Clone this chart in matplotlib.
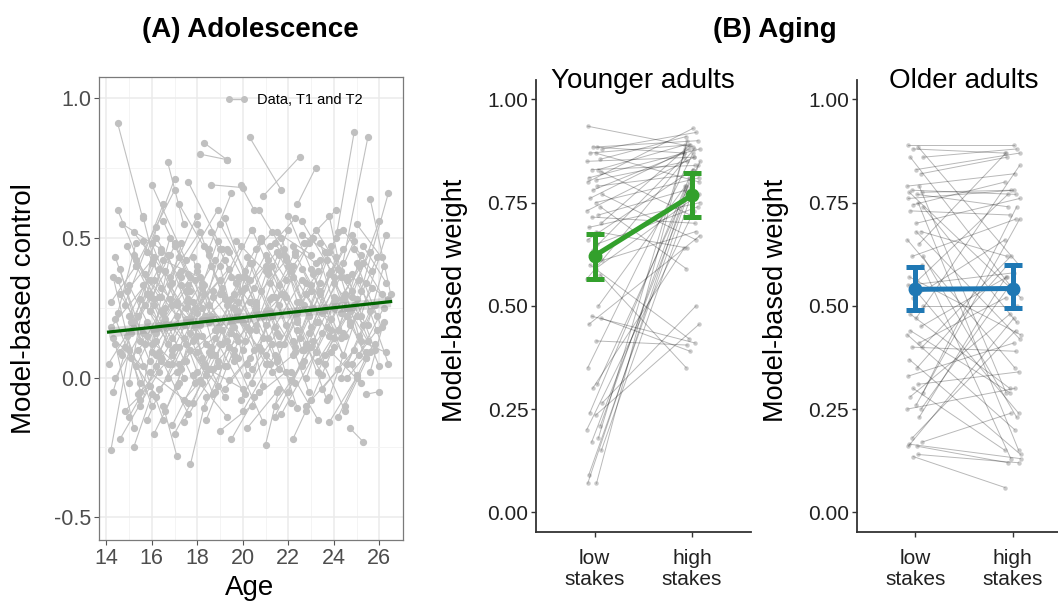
import matplotlib
matplotlib.use("Agg")
import matplotlib.pyplot as plt
from matplotlib.lines import Line2D
import numpy as np

plt.rcParams["font.family"] = ["Liberation Sans", "DejaVu Sans"]
plt.rcParams["axes.unicode_minus"] = False

# (A) Adolescence: model-based control at T1 and T2 for each participant
t1_age = [14.1, 14.2, 14.2, 14.3, 14.3, 14.4, 14.4, 14.5, 14.5, 14.5, 14.6, 14.6, 14.7, 14.7, 14.8, 14.8, 14.9, 14.9, 15.0, 15.0,
          15.1, 15.2, 15.2, 15.3, 15.3, 15.4, 15.5, 15.5, 15.6, 15.6, 15.7, 15.8, 15.8, 15.9, 15.9, 16.0, 16.0, 16.1, 16.1, 16.2,
          16.2, 16.3, 16.4, 16.4, 16.5, 16.5, 16.6, 16.7, 16.7, 16.8, 16.9, 16.9, 17.0, 17.0, 17.1, 17.2, 17.2, 17.3, 17.4, 17.4,
          17.5, 17.6, 17.7, 17.7, 17.8, 17.8, 17.9, 18.0, 18.0, 18.1, 18.2, 18.3, 18.3, 18.4, 18.5, 18.5, 18.6, 18.7, 18.8, 18.9,
          19.0, 19.0, 19.1, 19.2, 19.3, 19.4, 19.5, 19.6, 19.7, 19.8, 19.9, 20.0, 20.1, 20.2, 20.3, 20.3, 20.4, 20.5, 20.6, 20.7,
          20.8, 20.9, 21.0, 21.0, 21.1, 21.2, 21.3, 21.4, 21.5, 21.5, 21.6, 21.7, 21.8, 21.9, 22.0, 22.1, 22.2, 22.2, 22.3, 22.4,
          22.5, 22.6, 22.7, 22.8, 22.9, 23.0, 23.1, 23.2, 23.3, 23.4, 23.5, 23.6, 23.7, 23.8, 23.9, 24.0, 24.1, 24.2, 24.3, 24.4,
          24.5, 24.6, 24.7, 24.8, 24.9, 25.0, 25.1, 25.2, 25.3, 25.4, 25.5, 25.6,
          15.1, 15.7, 16.3, 16.6, 17.1, 17.5, 17.9, 18.2, 18.6, 18.9, 19.3, 19.6, 20.0, 20.4, 20.8, 21.2, 21.6, 22.0, 22.4, 22.8,
          23.2, 23.6, 24.0, 24.4, 24.8, 14.3, 14.9, 20.6, 21.4, 22.6,
          14.2, 14.4, 14.6, 14.8, 15.0, 15.2, 15.4, 15.6, 15.8, 16.0, 16.2, 16.4, 16.6, 16.8, 17.0,
          17.2, 17.4, 17.6, 17.8, 18.0, 18.2, 18.4, 18.6, 18.8, 19.0, 19.2, 19.4, 19.6, 19.8, 20.0,
          20.2, 20.4, 20.6, 20.8, 21.0, 21.2, 21.4, 21.6, 21.8, 22.0, 22.2, 22.4, 22.6, 22.8, 23.0,
          23.2, 23.4, 23.6, 23.8, 24.0, 24.2, 24.4, 24.6, 24.8, 25.0, 25.2, 25.4, 25.6, 14.5, 15.1,
          15.5, 15.9, 16.3, 16.7, 17.1, 17.5, 17.9, 18.3, 18.7, 19.1, 19.5, 19.9, 20.3, 20.7, 21.1,
          21.5, 21.9, 22.3, 22.7, 23.1, 23.5, 23.9, 24.3, 24.7, 25.1, 14.6, 15.3, 16.1, 16.9, 17.7,
          18.5, 19.3, 20.1, 20.9, 21.7, 22.5, 23.3, 24.1, 24.9, 16.0, 17.3, 18.1, 19.7, 21.3, 22.9,
          14.4, 15.0, 15.6, 16.2, 16.8, 17.4, 18.0, 18.6, 19.2, 19.8, 20.4, 21.0, 21.6, 22.2, 22.8,
          23.4, 24.0, 24.6, 25.2, 17.0, 18.4, 19.0, 20.2, 21.4, 22.6, 23.8, 16.5, 19.5, 22.1, 24.5]
t1_mbc = [0.05, -0.26, 0.18, 0.36, -0.05, 0.43, 0.12, 0.91, 0.60, 0.23, -0.22, 0.30, 0.08, 0.55, -0.12, 0.26, 0.15, 0.47, -0.02, 0.33,
          0.20, -0.25, 0.52, 0.04, 0.40, 0.10, 0.28, -0.08, 0.58, 0.16, 0.37, -0.15, 0.45, 0.02, 0.24, 0.69, 0.09, -0.20, 0.35, 0.13,
          0.50, -0.04, 0.29, 0.07, 0.42, -0.10, 0.21, 0.77, 0.00, 0.33, 0.14, -0.17, 0.48, 0.11, 0.27, 0.62, 0.05, 0.38, -0.08, 0.19,
          0.31, 0.70, -0.31, 0.16, 0.43, 0.01, 0.25, 0.55, 0.09, 0.80, 0.34, 0.84, -0.11, 0.22, 0.46, 0.03, 0.69, 0.29, -0.05, 0.18,
          0.40, -0.19, 0.12, 0.57, 0.26, -0.01, 0.36, 0.08, 0.49, 0.21, 0.69, -0.12, 0.32, 0.05, 0.86, 0.17, 0.41, -0.07, 0.25, 0.60,
          0.10, 0.65, -0.24, 0.38, 0.14, 0.47, 0.02, 0.29, 0.52, 0.07, 0.33, -0.13, 0.44, 0.19, 0.58, -0.01, -0.22, 0.36, 0.11, 0.62,
          0.27, 0.04, 0.48, -0.10, 0.22, 0.39, 0.13, 0.53, 0.06, 0.30, -0.04, 0.45, 0.18, 0.58, 0.09, 0.34, 0.50, -0.14, 0.23, 0.41,
          0.15, 0.00, -0.18, 0.37, 0.26, 0.55, 0.08, 0.31, 0.47, -0.06, 0.19, 0.64,
          0.07, 0.26, 0.18, 0.38, 0.02, 0.12, 0.35, 0.15, 0.40, 0.06, 0.13, 0.30, 0.20, 0.03, 0.31, 0.24, 0.12, 0.40, 0.17, 0.30,
          0.20, 0.08, 0.14, 0.28, 0.05, 0.14, 0.31, 0.46, 0.48, 0.51,
          0.27, 0.00, 0.39, 0.11, 0.22, 0.44, -0.06, 0.33, 0.15, 0.48, 0.04, 0.24, -0.12, 0.36, 0.19,
          0.43, 0.06, 0.28, -0.09, 0.38, 0.21, 0.01, 0.52, 0.14, 0.30, -0.04, 0.45, 0.18, 0.36, 0.10,
          0.43, -0.02, 0.19, 0.50, 0.08, 0.34, -0.10, 0.26, 0.12, -0.05, 0.47, 0.21, 0.39, 0.00, 0.31,
          0.09, 0.42, 0.25, -0.07, 0.36, 0.17, 0.53, 0.05, 0.29, 0.41, 0.13, 0.34, 0.02, 0.35, 0.16,
          -0.10, 0.30, 0.09, 0.44, -0.03, 0.25, 0.14, 0.47, 0.03, 0.32, 0.16, -0.08, 0.27, 0.11, 0.42,
          0.06, 0.29, 0.44, 0.10, 0.37, 0.23, 0.47, 0.00, 0.20, 0.35, 0.09, 0.42, 0.26, 0.05, 0.21,
          0.26, 0.04, 0.38, 0.22, 0.50, 0.14, 0.02, 0.28, 0.46, 0.12, 0.33, -0.01, 0.24, 0.40, 0.16,
          0.21, -0.14, 0.49, 0.16, 0.28, -0.16, 0.23, 0.11, 0.42, 0.07, 0.53, 0.24, 0.44, 0.08, -0.12,
          0.48, 0.25, 0.36, 0.22, -0.20, -0.15, 0.55, -0.18, -0.14, 0.56, -0.16, 0.56, -0.22, 0.02, -0.10]
t2_age = [15.4, 15.0, 15.9, 15.5, 16.0, 15.7, 15.2, 15.6, 16.1, 15.3, 16.3, 16.2, 15.8, 16.4, 15.9, 16.5, 16.0, 16.6, 16.2, 16.7,
          16.3, 16.0, 16.9, 16.6, 17.0, 16.5, 17.2, 16.8, 16.4, 17.3, 17.1, 17.4, 17.0, 17.6, 16.8, 17.5, 17.7, 17.2, 17.9, 17.3,
          17.8, 17.5, 18.0, 17.6, 18.1, 17.1, 18.3, 17.4, 18.2, 18.4, 18.0, 18.5, 18.6, 18.3, 18.7, 18.5, 18.8, 18.9, 18.6, 19.0,
          18.2, 19.1, 18.4, 19.2, 19.0, 19.3, 19.4, 19.1, 19.5, 19.3, 19.6, 19.3, 19.7, 19.9, 19.5, 20.0, 20.0, 20.1, 19.8, 20.3,
          20.2, 20.4, 20.5, 20.6, 20.8, 20.7, 21.0, 20.9, 21.1, 21.2, 20.5, 21.4, 21.5, 21.3, 21.7, 21.8, 21.6, 21.9, 22.0, 22.2,
          22.1, 22.5, 21.6, 22.4, 22.6, 22.3, 22.8, 22.9, 23.0, 22.7, 23.1, 23.2, 22.4, 23.3, 23.4, 23.5, 23.0, 23.6, 23.7, 23.2,
          23.9, 24.0, 24.1, 24.2, 24.4, 24.3, 24.5, 24.6, 24.7, 24.8, 24.9, 25.0, 25.1, 24.3, 25.2, 25.3, 24.9, 25.4, 25.6, 25.5,
          25.7, 25.8, 25.3, 25.9, 26.0, 26.1, 26.2, 26.4, 26.3, 26.0, 26.2, 26.5,
          16.1, 16.9, 17.7, 17.8, 18.1, 18.9, 18.8, 19.2, 19.6, 20.2, 20.1, 20.9, 21.0, 21.5, 21.9, 22.3, 22.8, 23.1, 23.5, 23.8,
          24.3, 24.6, 25.0, 25.5, 25.9, 15.6, 16.1, 21.3, 21.9, 23.8,
          15.3, 15.8, 15.5, 16.2, 16.4, 16.3, 16.9, 16.7, 17.2, 17.1, 17.5, 17.9, 17.7, 18.1, 18.4,
          18.5, 18.7, 18.3, 19.1, 19.4, 19.0, 19.8, 19.7, 20.1, 20.4, 20.3, 20.6, 21.0, 20.9, 21.2,
          21.4, 21.3, 21.8, 21.9, 22.3, 22.2, 22.7, 22.9, 23.0, 23.3, 23.2, 23.7, 23.9, 24.0, 24.2,
          24.5, 24.4, 24.9, 25.0, 25.4, 25.2, 25.7, 25.8, 26.0, 26.1, 26.3, 26.4, 26.2, 15.9, 16.6,
          16.8, 17.0, 17.6, 18.0, 18.2, 18.8, 19.2, 19.5, 20.0, 20.5, 20.8, 21.3, 21.6, 22.1, 22.4,
          22.8, 23.0, 23.6, 24.1, 24.4, 24.8, 25.1, 25.6, 25.9, 26.4, 15.9, 16.5, 17.4, 18.3, 18.9,
          19.8, 20.6, 21.5, 22.3, 23.0, 23.8, 24.6, 25.4, 26.1, 17.3, 18.6, 19.5, 21.0, 22.6, 24.2,
          15.5, 16.4, 16.9, 17.6, 18.0, 18.9, 19.3, 19.9, 20.6, 21.1, 21.7, 22.4, 22.9, 23.4, 24.0,
          24.7, 25.3, 25.8, 26.3, 18.2, 19.6, 20.3, 21.5, 22.6, 23.9, 25.0, 17.6, 20.7, 23.3, 25.6]
t2_mbc = [0.22, 0.10, 0.35, -0.05, 0.41, 0.12, -0.18, 0.57, 0.28, 0.48, 0.02, 0.08, 0.30, 0.46, -0.03, 0.62, -0.10, 0.19, 0.54, 0.05,
          0.39, -0.06, 0.34, 0.25, 0.67, -0.15, 0.11, 0.44, 0.32, 0.03, 0.22, 0.14, 0.71, -0.09, 0.50, 0.42, 0.31, -0.02, 0.18, 0.48,
          0.27, 0.06, 0.58, -0.13, 0.36, -0.28, 0.04, 0.55, 0.25, 0.12, 0.40, 0.09, 0.22, 0.33, -0.06, 0.44, 0.17, 0.60, 0.03, 0.35,
          0.07, 0.46, -0.07, 0.28, 0.12, -0.14, 0.39, 0.30, 0.20, 0.78, 0.06, 0.78, 0.15, 0.47, 0.66, -0.04, 0.68, 0.13, 0.27, 0.41,
          0.01, -0.10, 0.32, 0.24, 0.50, 0.11, 0.19, -0.16, 0.37, 0.05, 0.60, 0.08, 0.45, 0.22, 0.67, 0.30, 0.15, 0.02, 0.53, 0.40,
          -0.09, 0.79, -0.04, 0.20, 0.35, 0.57, 0.12, -0.05, 0.44, 0.26, 0.50, 0.09, 0.27, 0.38, 0.31, 0.16, -0.08, 0.05, 0.42, 0.75,
          0.21, 0.29, 0.60, 0.03, 0.46, 0.14, -0.12, 0.35, 0.24, 0.51, 0.10, 0.28, 0.40, 0.38, -0.02, 0.19, 0.88, 0.07, 0.45, 0.86,
          0.32, 0.12, -0.23, 0.22, 0.04, 0.43, 0.25, 0.66, 0.34, -0.05, 0.40, 0.30,
          0.17, 0.10, 0.36, 0.13, 0.19, -0.03, 0.08, 0.04, 0.25, 0.18, 0.36, 0.14, 0.05, 0.16, 0.42, 0.09, 0.30, 0.25, 0.01, 0.15,
          0.36, 0.22, 0.01, 0.13, 0.17, 0.04, 0.43, 0.52, 0.43, 0.45,
          0.40, 0.20, 0.13, -0.07, 0.45, 0.29, 0.08, 0.12, 0.37, 0.26, 0.21, -0.02, 0.10, 0.52, 0.01,
          0.20, 0.31, 0.05, 0.17, 0.11, 0.46, 0.24, 0.34, -0.06, 0.53, 0.07, 0.26, 0.40, -0.03, 0.28,
          0.18, 0.29, 0.46, 0.35, -0.02, 0.13, 0.06, 0.48, 0.33, 0.20, 0.41, -0.08, 0.17, 0.27, 0.52,
          0.30, 0.16, 0.49, 0.22, 0.07, 0.44, 0.38, 0.26, 0.56, 0.18, 0.09, 0.28, 0.20, 0.06, 0.38,
          0.19, 0.47, 0.27, 0.15, 0.32, 0.42, -0.07, 0.21, 0.36, 0.10, 0.49, 0.12, 0.03, 0.38, 0.23,
          0.34, 0.11, 0.25, 0.43, 0.08, 0.31, 0.15, 0.24, 0.43, 0.05, 0.29, 0.23, 0.00, 0.30, 0.49,
          0.13, 0.27, 0.06, 0.45, 0.18, 0.37, 0.25, 0.09, 0.30, 0.36, 0.08, 0.28, 0.44, 0.10, 0.39,
          -0.02, 0.06, 0.26, 0.33, 0.02, 0.04, 0.46, 0.31, 0.17, 0.39, 0.30, -0.11, 0.22, 0.34, 0.11,
          0.19, 0.41, 0.10, 0.51, -0.02, 0.10, 0.35, -0.05, 0.05, 0.38, 0.00, 0.37, -0.05, -0.15, 0.09]

# linear age effect (end points) and its band half-width
fit_age = [14.1, 26.5]
fit_mbc = [0.163, 0.272]
fit_band = [0.018, 0.018]

# (B) Aging: model-based weight per participant, low vs high stakes
young_low = [0.935, 0.885, 0.885, 0.88, 0.87, 0.87, 0.855, 0.85, 0.83, 0.83, 0.825, 0.81, 0.805, 0.80, 0.79, 0.78, 0.77,
             0.76, 0.75, 0.74, 0.73, 0.72, 0.715, 0.70, 0.69, 0.68, 0.66, 0.65, 0.635, 0.61, 0.60, 0.59, 0.575, 0.565,
             0.50, 0.475, 0.47, 0.455, 0.415, 0.35, 0.31, 0.30, 0.265, 0.24, 0.235, 0.21, 0.20, 0.18, 0.17, 0.15, 0.09, 0.07, 0.07]
young_high = [0.885, 0.90, 0.87, 0.92, 0.89, 0.80, 0.91, 0.86, 0.89, 0.84, 0.72, 0.88, 0.85, 0.93, 0.82, 0.87, 0.66,
              0.88, 0.81, 0.59, 0.86, 0.78, 0.70, 0.89, 0.75, 0.64, 0.83, 0.74, 0.86, 0.68, 0.42, 0.77, 0.35, 0.88,
              0.79, 0.41, 0.39, 0.67, 0.405, 0.87, 0.84, 0.64, 0.50, 0.81, 0.455, 0.79, 0.73, 0.88, 0.82, 0.76, 0.85, 0.90, 0.83]
old_low = [0.89, 0.885, 0.88, 0.86, 0.86, 0.83, 0.82, 0.79, 0.79, 0.78, 0.775, 0.775, 0.77, 0.76, 0.75, 0.745, 0.74, 0.73,
           0.70, 0.68, 0.66, 0.65, 0.62, 0.60, 0.57, 0.56, 0.55, 0.53, 0.52, 0.50, 0.48, 0.47, 0.45, 0.43, 0.41, 0.40, 0.40,
           0.37, 0.35, 0.33, 0.31, 0.30, 0.29, 0.28, 0.26, 0.25, 0.25, 0.23, 0.18, 0.17, 0.165, 0.16, 0.16, 0.14, 0.135,
           0.62, 0.44, 0.68]
old_high = [0.89, 0.60, 0.87, 0.88, 0.55, 0.87, 0.86, 0.82, 0.29, 0.77, 0.78, 0.52, 0.74, 0.78, 0.15, 0.80, 0.46, 0.72,
            0.76, 0.62, 0.35, 0.87, 0.71, 0.13, 0.43, 0.77, 0.58, 0.24, 0.66, 0.50, 0.30, 0.84, 0.57, 0.20, 0.52, 0.39, 0.62,
            0.14, 0.60, 0.41, 0.34, 0.15, 0.74, 0.48, 0.71, 0.54, 0.30, 0.57, 0.44, 0.24, 0.13, 0.12, 0.47, 0.12, 0.06,
            0.23, 0.29, 0.42]

stakes_labels = ["low\nstakes", "high\nstakes"]
young_mean = [0.621, 0.768]
young_ci_lo = [0.564, 0.716]
young_ci_hi = [0.674, 0.821]
old_mean = [0.540, 0.542]
old_ci_lo = [0.490, 0.494]
old_ci_hi = [0.595, 0.599]

fig = plt.figure(figsize=(10.58, 6.01), dpi=100)

# ---------- panel A ----------
axA = fig.add_axes([0.0936, 0.1015, 0.287, 0.7696])
data_grey = "#c0c0c0"
for a1, v1, a2, v2 in zip(t1_age, t1_mbc, t2_age, t2_mbc):
    axA.plot([a1, a2], [v1, v2], color=data_grey, lw=0.8, marker="o", ms=4.2,
             mfc=data_grey, mec=data_grey, zorder=2)
fit_lo = np.array(fit_mbc) - np.array(fit_band)
fit_hi = np.array(fit_mbc) + np.array(fit_band)
axA.fill_between(fit_age, fit_lo, fit_hi, color="#999999", alpha=0.35, lw=0, zorder=3)
axA.plot(fit_age, fit_mbc, color="#006400", lw=2.3, zorder=4)

axA.set_xlim(13.68, 27.03)
axA.set_ylim(-0.581, 1.074)
axA.set_xticks(range(14, 27, 2))
axA.set_xticks(range(15, 27, 2), minor=True)
axA.set_yticks([-0.5, 0.0, 0.5, 1.0])
axA.set_yticklabels(["-0.5", "0.0", "0.5", "1.0"])
axA.set_yticks([-0.25, 0.25, 0.75], minor=True)
axA.grid(which="major", color="#ebebeb", lw=1.1)
axA.grid(which="minor", color="#f3f3f3", lw=0.6)
axA.set_axisbelow(True)
axA.tick_params(which="major", length=3.5, width=0.8, color="#555555",
                labelsize=15.5, labelcolor="#4d4d4d", pad=2)
axA.tick_params(which="minor", length=0)
for s in axA.spines.values():
    s.set_color("#7a7a7a")
    s.set_linewidth(0.9)

handle = Line2D([], [], color=data_grey, lw=1.0, marker="o", ms=4, mfc=data_grey, mec=data_grey)
axA.legend([handle], ["Data, T1 and T2"], loc="center left", bbox_to_anchor=(0.415, 0.951),
           frameon=False, fontsize=10.5, numpoints=2, handlelength=1.6, handletextpad=0.6,
           borderpad=0, borderaxespad=0)

fig.text(24 / 1058, 1 - 309 / 601, "Model-based control", rotation=90, ha="center", va="center", fontsize=20)
fig.text(250 / 1058, 1 - 595 / 601, "Age", ha="center", va="baseline", fontsize=20)
fig.text(250 / 1058, 1 - 30 / 601, "(A) Adolescence", ha="center", va="center", fontsize=20, fontweight="bold")
fig.text(775 / 1058, 1 - 30 / 601, "(B) Aging", ha="center", va="center", fontsize=20, fontweight="bold")

# ---------- panel B ----------
jitter = [-0.07, 0.03, -0.02, 0.08, -0.05, 0.01, 0.06, -0.08, 0.04, -0.03, 0.07, -0.06, 0.02]


def stakes_panel(ax, low, high, mean, ci_lo, ci_hi, color, title):
    for i, (lo, hi) in enumerate(zip(low, high)):
        xl = 1 + jitter[i % len(jitter)]
        xh = 2 + jitter[(i + 5) % len(jitter)]
        ax.plot([xl, xh], [lo, hi], color="black", alpha=0.28, lw=0.7, zorder=2)
        ax.plot([xl, xh], [lo, hi], "o", ms=3.2, color="#888888", alpha=0.45, mec="none", zorder=2)
    mean = np.array(mean)
    yerr = [mean - np.array(ci_lo), np.array(ci_hi) - mean]
    ax.errorbar([1, 2], mean, yerr=yerr, color=color, lw=3.6, marker="o", ms=9,
                capsize=6.8, capthick=3.6, elinewidth=3.6, zorder=5)
    ax.set_xlim(0.4, 2.6)
    ax.set_ylim(-0.047, 1.047)
    ax.set_xticks([1, 2])
    ax.set_xticklabels(stakes_labels, linespacing=1.15)
    ax.set_yticks([0, 0.25, 0.5, 0.75, 1.0])
    ax.set_yticklabels(["0.00", "0.25", "0.50", "0.75", "1.00"])
    ax.tick_params(length=3.5, width=1.0, labelsize=15, labelcolor="#222222", color="#333333")
    ax.tick_params(axis="y", pad=2)
    ax.tick_params(axis="x", pad=9)
    for side in ["top", "right"]:
        ax.spines[side].set_visible(False)
    for side in ["left", "bottom"]:
        ax.spines[side].set_color("#333333")
        ax.spines[side].set_linewidth(1.3)
    ax.text(0.5, 0.982, title, transform=ax.transAxes, ha="center", va="baseline", fontsize=20)


axY = fig.add_axes([0.5066, 0.1153, 0.2029, 0.7516])
stakes_panel(axY, young_low, young_high, young_mean, young_ci_lo, young_ci_hi, "#33a02c", "Younger adults")
fig.text(455 / 1058, 1 - 300 / 601, "Model-based weight", rotation=90, ha="center", va="center", fontsize=19.5)

axO = fig.add_axes([0.8097, 0.1153, 0.2029, 0.7516])
stakes_panel(axO, old_low, old_high, old_mean, old_ci_lo, old_ci_hi, "#1f78b4", "Older adults")
fig.text(776 / 1058, 1 - 300 / 601, "Model-based weight", rotation=90, ha="center", va="center", fontsize=19.5)

fig.savefig("out.png", dpi=100)
